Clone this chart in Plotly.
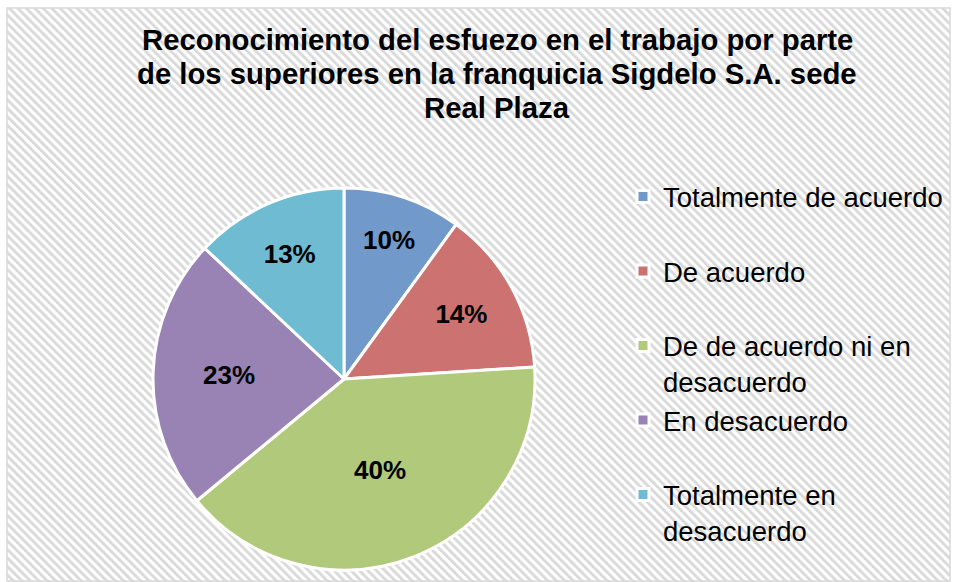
import base64
import plotly.graph_objects as go

# ---- data ----
categories = [
    "Totalmente de acuerdo<br>\u00a0",
    "De acuerdo<br>\u00a0",
    "De de acuerdo ni en<br>desacuerdo",
    "En desacuerdo<br>\u00a0",
    "Totalmente en<br>desacuerdo",
]
values = [10, 14, 40, 23, 13]
colors = ["#7199ca", "#cc7371", "#b0c97a", "#9883b4", "#6fbcd2"]
title_lines = [
    "Reconocimiento del esfuezo en el trabajo por parte",
    "de los superiores en la franquicia Sigdelo S.A. sede",
    "Real Plaza",
]

W, H = 957, 582
FONT = "Liberation Sans, Arial, sans-serif"

def px_x(x):
    return x / W

def px_y(y):
    return 1 - y / H

# hatch background as svg
bw, bh = 943, 574
svg = (
    f"<svg xmlns='http://www.w3.org/2000/svg' width='{bw}' height='{bh}'>"
    "<defs><pattern id='p' width='6' height='6' patternUnits='userSpaceOnUse' "
    "patternTransform='rotate(-45)'>"
    "<rect width='6' height='6' fill='#ffffff'/>"
    "<rect width='2.8' height='6' fill='#d9d9d9'/>"
    "</pattern></defs>"
    f"<rect width='{bw}' height='{bh}' fill='url(#p)'/></svg>"
)
svg_uri = "data:image/svg+xml;base64," + base64.b64encode(svg.encode()).decode()

fig = go.Figure(
    go.Pie(
        labels=categories,
        values=values,
        sort=False,
        direction="clockwise",
        rotation=0,
        marker=dict(colors=colors, line=dict(color="white", width=3)),
        textinfo="percent",
        texttemplate="%{percent:.0%}",
        textposition="inside",
        insidetextorientation="horizontal",
        insidetextfont=dict(family=FONT, size=26, color="black", weight="bold"),
        hoverinfo="label+percent",
        domain=dict(x=[px_x(153), px_x(535)], y=[px_y(570), px_y(188)]),
    )
)

annotations = []
title_y = [40, 73.5, 107]
for line, yy in zip(title_lines, title_y):
    annotations.append(
        dict(
            text=f"<b>{line}</b>",
            x=px_x(497),
            y=px_y(yy),
            xref="paper",
            yref="paper",
            xanchor="center",
            yanchor="middle",
            showarrow=False,
            font=dict(family=FONT, size=29.3, color="black"),
        )
    )

fig.update_layout(
    width=W,
    height=H,
    margin=dict(l=0, r=0, t=0, b=0),
    paper_bgcolor="white",
    plot_bgcolor="white",
    showlegend=True,
    legend=dict(
        x=px_x(623),
        y=px_y(172),
        xanchor="left",
        yanchor="top",
        valign="top",
        bgcolor="rgba(0,0,0,0)",
        font=dict(family=FONT, size=27.5, color="black"),
        itemclick=False,
        itemdoubleclick=False,
    ),
    annotations=annotations,
    images=[
        dict(
            source=svg_uri,
            xref="paper",
            yref="paper",
            x=px_x(7),
            y=px_y(8),
            sizex=bw / W,
            sizey=bh / H,
            xanchor="left",
            yanchor="top",
            sizing="stretch",
            layer="below",
        )
    ],
    shapes=[
        dict(
            type="rect",
            xref="paper",
            yref="paper",
            x0=px_x(7),
            x1=px_x(950),
            y0=px_y(581),
            y1=px_y(8),
            line=dict(color="#d9d9d9", width=1.5),
            fillcolor="rgba(0,0,0,0)",
        )
    ],
)

fig.write_html(
    "out.html",
    config={"displayModeBar": False},
    post_script="document.body.style.margin='0';document.body.style.overflow='hidden';",
)
